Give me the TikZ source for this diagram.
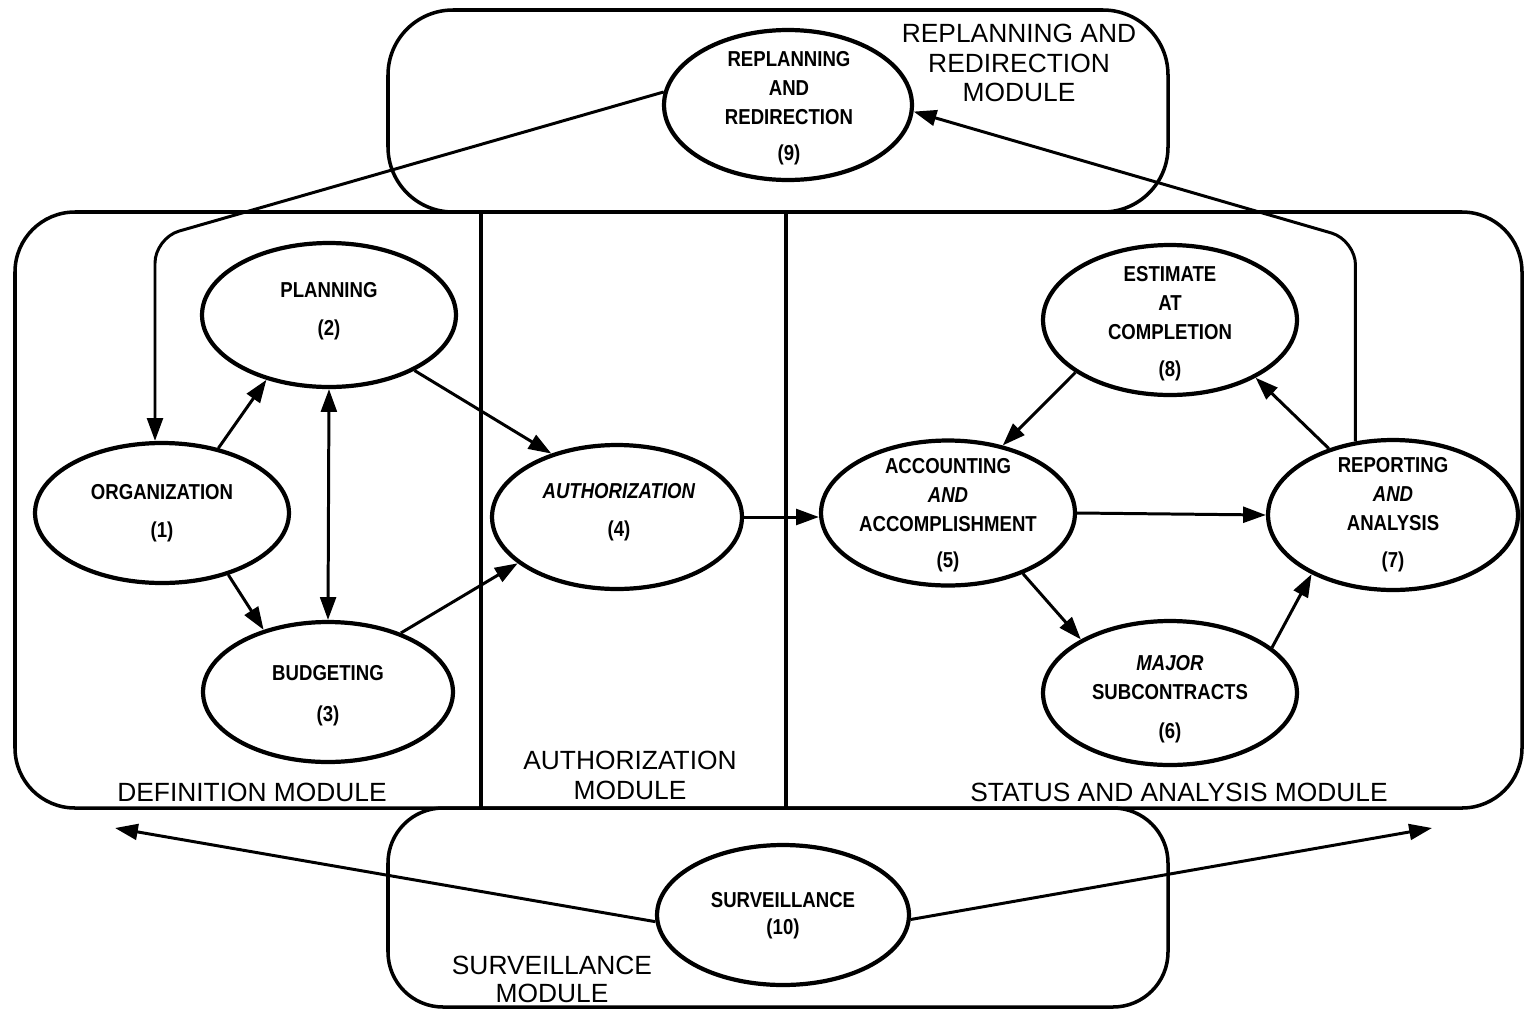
\documentclass[tikz,border=0pt]{standalone}
\usepackage{fontspec}
\usetikzlibrary{shapes.geometric,arrows.meta}
\newfontfamily\lblfont[FakeStretch=0.86]{Liberation Sans}
\newfontfamily\modfont{Liberation Sans}
\begin{document}
\begin{tikzpicture}[x=0.02cm,y=-0.02cm,
  ell/.style={draw,ellipse,line width=2.4pt,inner sep=0pt,minimum width=5.05cm,minimum height=2.88cm},
  txt/.style={align=center,inner sep=0pt,font=\lblfont\bfseries\fontsize{12.3}{16.4}\selectfont},
  modlbl/.style={align=center,inner sep=0pt,font=\modfont\fontsize{15}{17}\selectfont},
  box/.style={draw,line width=2pt},
  conn/.style={draw,line width=1.7pt,-{Triangle[length=13pt,width=9pt]}},
  dconn/.style={draw,line width=1.7pt,{Triangle[length=13pt,width=9pt]}-{Triangle[length=13pt,width=9pt]}}
]
\useasboundingbox (0,0) rectangle (1525,1011);
% module boxes
\draw[box,rounded corners=1.3cm] (388,10) rectangle (1168,212);
\draw[box,rounded corners=1.2cm] (15,212) rectangle (1522,808);
\draw[box,rounded corners=1.1cm] (388,808) rectangle (1168,1007);
\draw[box] (481,212) -- (481,808);
\draw[box] (786,212) -- (786,808);
% ellipses
\node[ell,minimum width=4.96cm,minimum height=3.0cm] (n9) at (788,105) {};
\node[ell,minimum width=5.08cm,minimum height=2.88cm] (n2) at (329,315) {};
\node[ell,minimum width=5.08cm,minimum height=2.8cm] (n1) at (162,513) {};
\node[ell,minimum width=5.0cm,minimum height=2.8cm] (n3) at (328,692) {};
\node[ell,minimum width=5.0cm,minimum height=2.88cm] (n4) at (617,517) {};
\node[ell,minimum width=5.08cm,minimum height=2.9cm] (n5) at (948,513) {};
\node[ell,minimum width=5.08cm,minimum height=3.0cm] (n8) at (1170,320) {};
\node[ell,minimum width=5.0cm,minimum height=3.0cm] (n7) at (1393,515) {};
\node[ell,minimum width=5.08cm,minimum height=2.88cm] (n6) at (1170,693) {};
\node[ell,minimum width=5.04cm,minimum height=2.8cm] (n10) at (783,915) {};
% node texts
\node[txt] (t9) at (789,108) {REPLANNING\\AND\\REDIRECTION\\[4pt](9)};
\node[txt] (t2) at (329,311) {PLANNING\\[5pt](2)};
\node[txt] (t1) at (162,513) {ORGANIZATION\\[5pt](1)};
\node[txt] (t3) at (328,696) {BUDGETING\\[7pt](3)};
\node[txt] (t4) at (619,512) {\textit{AUTHORIZATION}\\[5pt](4)};
\node[txt] (t5) at (948,515) {ACCOUNTING\\\textit{AND}\\ACCOMPLISHMENT\\[4pt](5)};
\node[txt] (t8) at (1170,324) {ESTIMATE\\AT\\COMPLETION\\[5pt](8)};
\node[txt] (t7) at (1393,515) {REPORTING\\\textit{AND}\\ANALYSIS\\[5pt](7)};
\node[txt] (t6) at (1170,699) {\textit{MAJOR}\\SUBCONTRACTS\\[6pt](6)};
\node[txt] (t10) at (783,916) {SURVEILLANCE\\[-1pt](10)};
% module labels
\node[modlbl] (m9) at (1019,63) {REPLANNING AND\\REDIRECTION\\MODULE};
\node[modlbl] (m1) at (252,792) {DEFINITION MODULE};
\node[modlbl] (m4) at (630,775) {AUTHORIZATION\\MODULE};
\node[modlbl] (m5) at (1179,792) {STATUS AND ANALYSIS MODULE};
\node[modlbl,font=\modfont\fontsize{15}{16}\selectfont] (m10) at (552,979) {SURVEILLANCE\\MODULE};
% free ends and bends
\coordinate (c1) at (155,238);
\coordinate (c2) at (1358,240);
\coordinate (el) at (115,828);
\coordinate (er) at (1432,828);
% connectors
\draw[conn,rounded corners=0.5cm] (n9.174) -- (c1) -- (c1 |- n1.north);
\draw[conn,rounded corners=0.5cm] (n7.117) -- (n7.117 |- c2) -- (n9.-3);
\draw[conn] (n1.49) -- (n2.226);
\draw[dconn] (n2.south) -- (n3.north);
\draw[conn] (n1.-43) -- (n3.136);
\draw[conn] (n2.-33) -- (n4.136);
\draw[conn] (n3.39) -- (n4.205);
\draw[conn] (n4.east) -- (n4.east -| n5.west);
\draw[conn] (n8.209) -- (n5.51);
\draw[conn] (n5.east) -- (n7.west);
\draw[conn] (n7.134) -- (n8.-34);
\draw[conn] (n5.-39) -- (n6.149);
\draw[conn] (n6.24) -- (n7.216);
\draw[conn] (n10.183) -- (el);
\draw[conn] (n10.-2) -- (er);
\end{tikzpicture}
\end{document}
